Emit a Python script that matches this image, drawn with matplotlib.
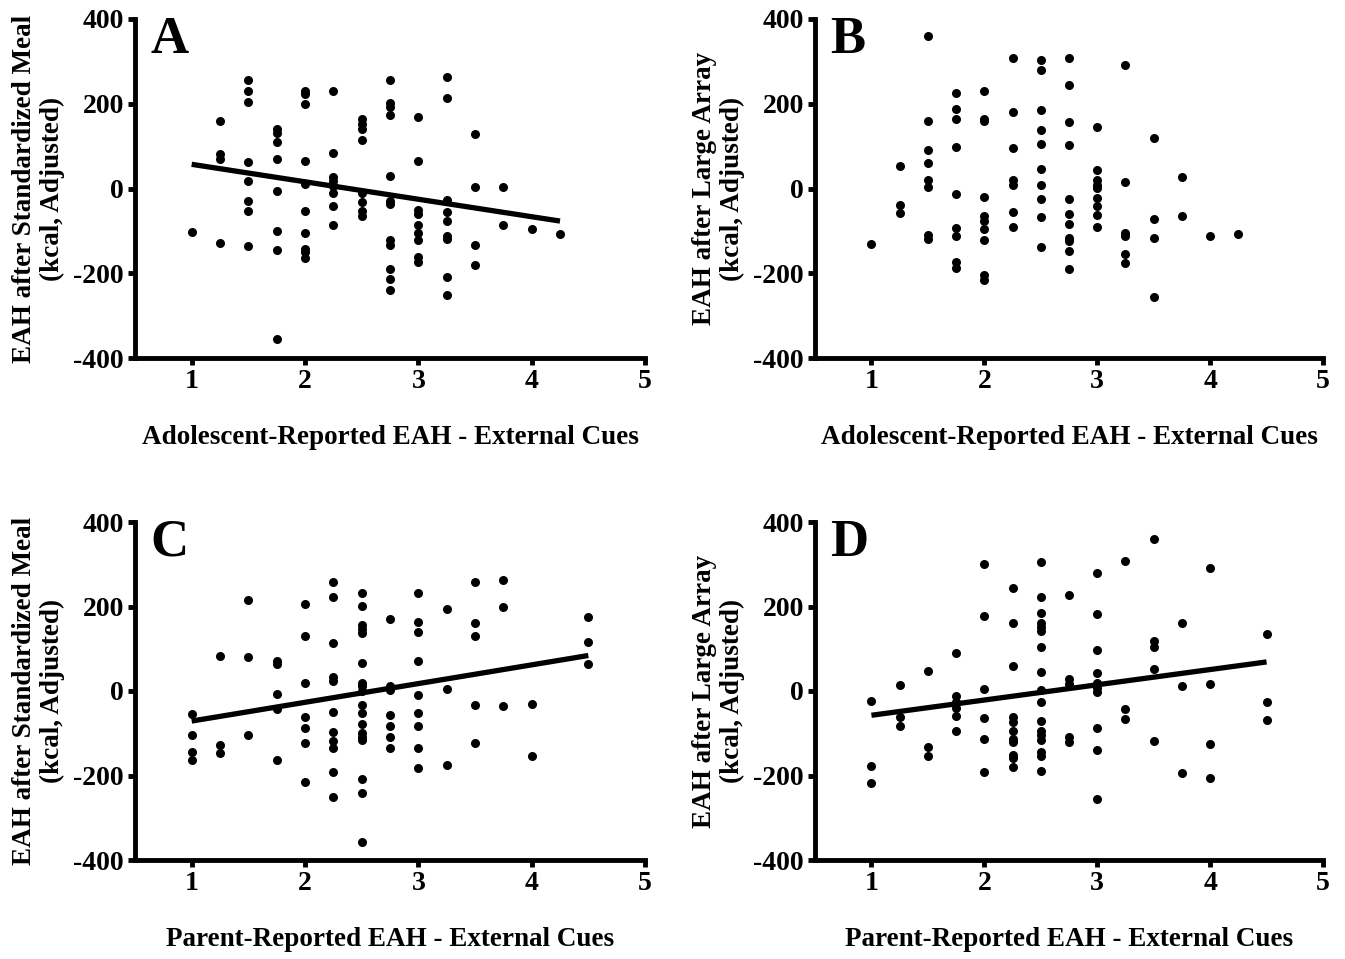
import numpy as np
import matplotlib
matplotlib.use("Agg")
import matplotlib.pyplot as plt

plt.rcParams['font.family'] = ['Liberation Serif', 'DejaVu Serif']
plt.rcParams['font.weight'] = 'bold'
plt.rcParams['axes.unicode_minus'] = False

# x levels of the questionnaire score, y values (kcal) read per column
a_levels = [1, 1.25, 1.5, 1.75, 2, 2.25, 2.5, 2.75, 3, 3.25, 3.5, 3.75, 4, 4.25]
a_values = [
    [-103],
    [160, 82, 70, -128],
    [256, 230, 203, 63, 17, -30, -52, -135],
    [140, 132, 110, 70, -7, -100, -146, -354],
    [230, 222, 199, 66, 11, -52, -105, -142, -150, -164],
    [229, 84, 27, 17, 5, -11, -42, -85],
    [164, 152, 140, 115, -11, -32, -53, -64],
    [256, 201, 193, 173, 29, -30, -36, -122, -134, -191, -214, -240],
    [169, 66, -50, -60, -87, -105, -122, -162, -173],
    [262, 213, -28, -56, -77, -113, -120, -209, -252],
    [129, 3, -134, -181],
    [3, -85],
    [-96],
    [-107],
]

b_levels = [1, 1.25, 1.5, 1.75, 2, 2.25, 2.5, 2.75, 3, 3.25, 3.5, 3.75, 4, 4.25]
b_values = [
    [-130],
    [53, -38, -58],
    [360, 159, 92, 61, 20, 3, -109, -119],
    [226, 187, 163, 99, -12, -93, -113, -174, -188],
    [230, 165, 159, -20, -64, -77, -95, -121, -204, -215],
    [309, 181, 96, 21, 9, -56, -91],
    [304, 280, 185, 137, 106, 47, 9, -24, -68, -137],
    [309, 245, 158, 103, -24, -60, -84, -117, -125, -148, -190],
    [146, 43, 20, 9, 2, -22, -42, -62, -92],
    [292, 16, -105, -113, -155, -176],
    [118, -72, -117, -255],
    [28, -64],
    [-111],
    [-107],
]

c_levels = [1, 1.25, 1.5, 1.75, 2, 2.25, 2.5, 2.75, 3, 3.25, 3.5, 3.75, 4, 4.5]
c_values = [
    [-54, -104, -145, -163],
    [84, -128, -146],
    [215, 80, -103],
    [71, 63, -6, -43, -163],
    [205, 130, 20, -61, -87, -122, -215],
    [257, 223, 113, 32, 24, -50, -96, -118, -136, -191, -252],
    [231, 202, 156, 147, 138, 67, 20, 12, 1, -33, -53, -78, -99, -108, -116, -208, -242, -357],
    [170, 12, 2, -57, -84, -108, -136],
    [233, 164, 140, 71, -10, -51, -84, -134, -183],
    [194, 4, -174],
    [258, 160, 129, -33, -124],
    [263, 200, -35],
    [-31, -155],
    [174, 115, 65],
]

d_levels = [1, 1.25, 1.5, 1.75, 2, 2.25, 2.5, 2.75, 3, 3.25, 3.5, 3.75, 4, 4.5]
d_values = [
    [-23, -177, -218],
    [14, -61, -83],
    [48, -132, -155],
    [89, -13, -25, -41, -59, -94],
    [301, 178, 4, -65, -114, -191],
    [243, 160, 59, -61, -73, -94, -114, -120, -151, -159, -179],
    [306, 223, 184, 162, 152, 143, 103, 45, 2, -27, -70, -94, -104, -116, -145, -155, -189],
    [227, 28, 16, -110, -120],
    [279, 182, 96, 42, 18, 8, -2, -87, -140, -256],
    [308, -43, -66],
    [359, 118, 103, 51, -118],
    [162, 13, -193],
    [290, 17, -125, -205],
    [135, -27, -69],
]

letters = ['A', 'B', 'C', 'D']
xlabels = ['Adolescent-Reported EAH - External Cues',
           'Adolescent-Reported EAH - External Cues',
           'Parent-Reported EAH - External Cues',
           'Parent-Reported EAH - External Cues']
ylabels = ['EAH after Standardized Meal\n(kcal, Adjusted)',
           'EAH after Large Array\n(kcal, Adjusted)',
           'EAH after Standardized Meal\n(kcal, Adjusted)',
           'EAH after Large Array\n(kcal, Adjusted)']
show_fit = [True, False, True, True]
panels = [(a_levels, a_values), (b_levels, b_values),
          (c_levels, c_values), (d_levels, d_values)]

W, H = 1345, 959
boxes = [(135, 19, 645, 358), (815, 19, 1323, 358),
         (135, 522, 645, 860), (815, 522, 1323, 860)]

fig = plt.figure(figsize=(W / 100, H / 100), dpi=100)

for i, (levels, values) in enumerate(panels):
    l, t, r, b = boxes[i]
    ax = fig.add_axes([l / W, 1 - b / H, (r - l) / W, (b - t) / H])

    x = np.concatenate([[lv] * len(v) for lv, v in zip(levels, values)])
    y = np.concatenate(values)
    ax.plot(x, y, 'o', color='black', markersize=6.5, markeredgewidth=0)

    if show_fit[i]:
        k, c0 = np.polyfit(x, y, 1)
        xs = np.array([x.min(), x.max()])
        ax.plot(xs, k * xs + c0, color='black', lw=3.8, solid_capstyle='butt')

    ax.set_xlim(0.5, 5)
    ax.set_ylim(-400, 400)
    ax.set_xticks([1, 2, 3, 4, 5])
    ax.set_yticks([-400, -200, 0, 200, 400])
    for s in ['top', 'right']:
        ax.spines[s].set_visible(False)
    for s in ['left', 'bottom']:
        ax.spines[s].set_linewidth(3.5)
    ax.tick_params(direction='out', length=5, width=3.5, labelsize=20, pad=3)
    for lab in ax.get_xticklabels() + ax.get_yticklabels():
        lab.set_fontweight('bold')

    ax.set_xlabel(xlabels[i], fontsize=19.5, fontweight='bold', labelpad=22)
    ax.set_ylabel(ylabels[i], fontsize=19.5, fontweight='bold', labelpad=6,
                  linespacing=1.15)
    ax.text(0.03, 1.01, letters[i], transform=ax.transAxes, fontsize=38,
            fontweight='bold', va='top', ha='left')

fig.savefig('out.png', dpi=100)
